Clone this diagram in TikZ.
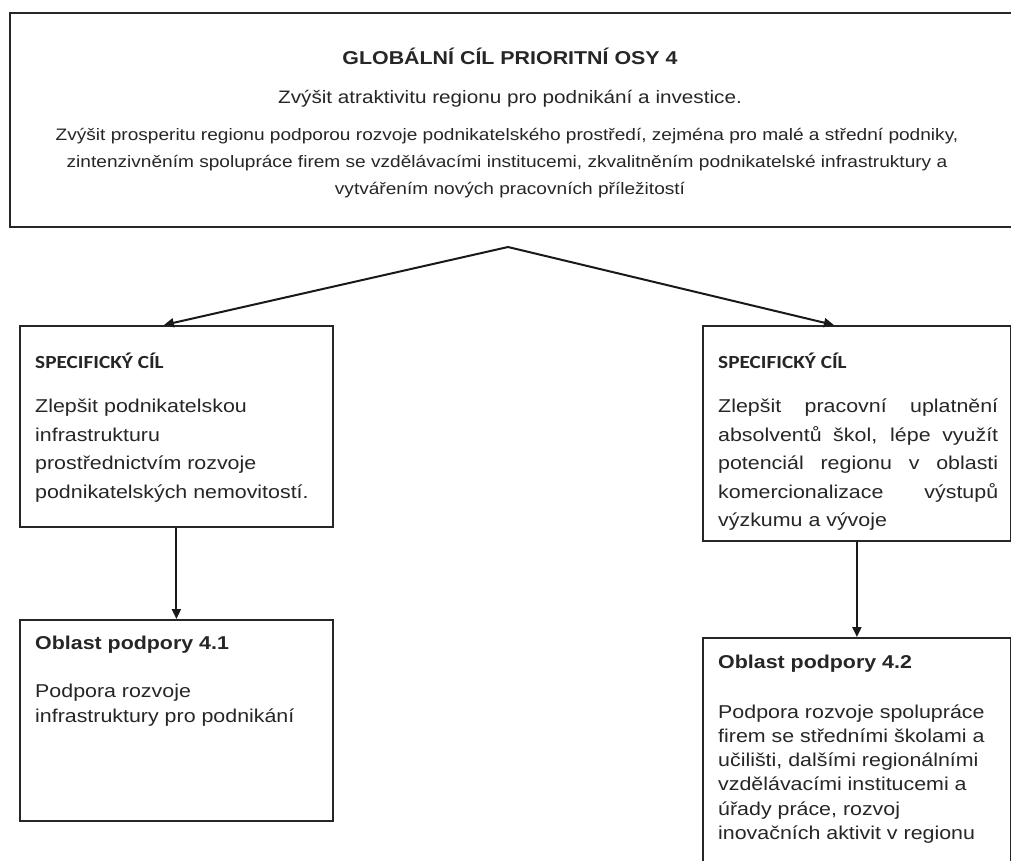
\documentclass[tikz,border=0pt]{standalone}
\usepackage{fontspec}
\newfontfamily\arl[FakeStretch=1.15]{Liberation Sans}
\newfontfamily\cbr[FakeStretch=1.15]{Carlito}
\usetikzlibrary{arrows.meta}
\begin{document}
\begin{tikzpicture}[x=1pt,y=-1pt,
  box/.style={draw=black!85, line width=1.8pt, anchor=north west, inner sep=0pt},
  arr/.style={draw=black!90, line width=2pt, -{Triangle[length=10pt,width=9pt]}},
  ln/.style={anchor=base west, inner sep=0pt, text=black!85},
  cn/.style={anchor=base, inner sep=0pt, text=black!85},
  fbody/.style={font=\arl\fontsize{18.6}{22}\selectfont},
  fbold/.style={font=\arl\bfseries\fontsize{18.6}{22}\selectfont},
  fsc/.style={font=\cbr\bfseries\fontsize{18.5}{22}\selectfont}]
\useasboundingbox[fill=white] (0,0) rectangle (1011,860);
% boxes
\node[box, minimum width=1016pt, minimum height=214pt] (glob) at (9,12) {};
\node[box, minimum width=313pt, minimum height=201pt] (sc1) at (19,325) {};
\node[box, minimum width=308pt, minimum height=215pt] (sc2) at (702,325) {};
\node[box, minimum width=313pt, minimum height=201pt] (op1) at (19,619) {};
\node[box, minimum width=308pt, minimum height=240pt] (op2) at (702,637) {};
% top texts
\node[cn, font=\arl\bfseries\fontsize{18.6}{22}\selectfont] (g1) at (510,64.5) {GLOBÁLNÍ CÍL PRIORITNÍ OSY 4};
\node[cn, font=\arl\fontsize{18}{22}\selectfont] (g2) at (510,103) {Zvýšit atraktivitu regionu pro podnikání a investice.};
\node[cn, font=\arl\fontsize{16.6}{20}\selectfont] (g3) at (507,140) {Zvýšit prosperitu regionu podporou rozvoje podnikatelského prostředí, zejména pro malé a střední podniky,};
\node[cn, font=\arl\fontsize{16.6}{20}\selectfont] (g4) at (507,167) {zintenzivněním spolupráce firem se vzdělávacími institucemi, zkvalitněním podnikatelské infrastruktury a};
\node[cn, font=\arl\fontsize{16.6}{20}\selectfont] (g5) at (510,194) {vytvářením nových pracovních příležitostí};
% arrows
\coordinate (apex) at (508,247);
\draw[arr] (apex) -- ([xshift=-12.5pt]sc1.north);
\draw[arr] (apex) -- ([xshift=-23pt]sc2.north);
\draw[arr] (sc1.south) -- (op1.north);
\draw[arr] (sc2.south) -- (op2.north);
% left SC
\node[ln, fsc] (a0) at (35,368) {SPECIFICKÝ CÍL};
\node[ln, fbody] (a1) at (35,412) {Zlepšit podnikatelskou};
\node[ln, fbody] (a2) at (35,441) {infrastrukturu};
\node[ln, fbody] (a3) at (35,469) {prostřednictvím rozvoje};
\node[ln, fbody] (a4) at (35,498) {podnikatelských nemovitostí.};
% right SC
\node[ln, fsc] (b0) at (718,368) {SPECIFICKÝ CÍL};
\node[ln, fbody] (b1) at (718,412) {\makebox[280pt][s]{Zlepšit pracovní uplatnění}};
\node[ln, fbody] (b2) at (718,441) {\makebox[280pt][s]{absolventů škol, lépe využít}};
\node[ln, fbody] (b3) at (718,469) {\makebox[280pt][s]{potenciál regionu v~oblasti}};
\node[ln, fbody] (b4) at (718,498) {\makebox[280pt][s]{komercionalizace výstupů}};
\node[ln, fbody] (b5) at (718,526) {výzkumu a vývoje};
% OP 4.1
\node[ln, fbold] (c0) at (35,649.5) {Oblast podpory 4.1};
\node[ln, fbody] (c1) at (35,697) {Podpora rozvoje};
\node[ln, fbody] (c2) at (35,722) {infrastruktury pro podnikání};
% OP 4.2
\node[ln, fbold] (d0) at (718,668.5) {Oblast podpory 4.2};
\node[ln, fbody] (d1) at (718,718) {Podpora rozvoje spolupráce};
\node[ln, fbody] (d2) at (718,742) {firem se středními školami a};
\node[ln, fbody] (d3) at (718,766.5) {učilišti, dalšími regionálními};
\node[ln, fbody] (d4) at (718,790.5) {vzdělávacími institucemi a};
\node[ln, fbody] (d5) at (718,815) {úřady práce, rozvoj};
\node[ln, fbody] (d6) at (718,839) {inovačních aktivit v regionu};
\end{tikzpicture}
\end{document}
